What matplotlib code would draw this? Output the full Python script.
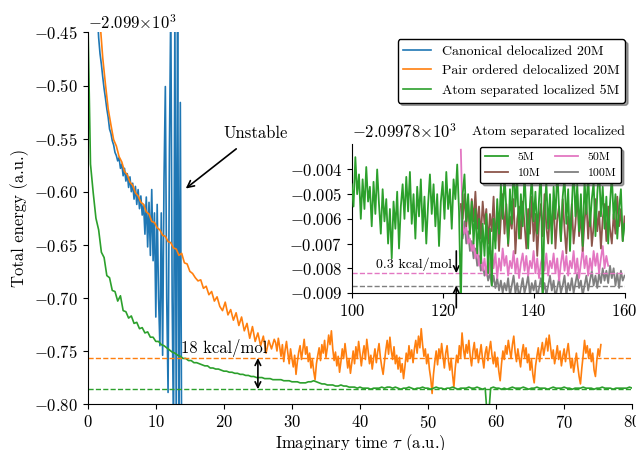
import numpy as np
import matplotlib
matplotlib.use("Agg")
import matplotlib.pyplot as plt

plt.rcParams['font.family'] = 'cmr10'
plt.rcParams['mathtext.fontset'] = 'cm'
plt.rcParams['axes.formatter.use_mathtext'] = True
plt.rcParams['axes.unicode_minus'] = True

# ---------------- data (main panel, energies relative to -2099 Ha, in mHa) -------------
t0_orange_early, dt_orange_early = 1.8, 0.4
orange_early_mha = [-440, -474, -499, -522, -537, -551, -557, -567, -572, -581, -584, -591, -594,
                    -601, -604, -610, -612, -619, -621, -628, -629, -634, -636, -641, -642, -647,
                    -648, -653, -654, -660, -658, -667, -668, -675, -677, -681, -684, -683, -691,
                    -689, -697, -694, -703, -699, -708, -712, -704, -716, -711, -721, -714, -726,
                    -718, -731, -724, -738, -727, -741, -733, -745, -736, -752, -740, -748, -739]
t0_orange_late, dt_orange_late = 27.6, 0.2
orange_late_mha = [
    -742, -750, -738, -746, -755, -744, -760, -749, -741, -752, -762, -748, -757, -765, -754, -772, -760, -751, -745, -758,
    -749, -739, -753, -746, -760, -752, -766, -758, -769, -777, -762, -754, -747, -759, -744, -752, -740, -756, -747, -735,
    -744, -731, -748, -759, -751, -764, -755, -770, -760, -748, -757, -743, -754, -766, -758, -771, -761, -750, -762, -746,
    -757, -741, -752, -764, -753, -745, -758, -739, -750, -762, -754, -767, -757, -748, -761, -751, -743, -756, -765, -772,
    -760, -749, -740, -753, -737, -750, -758, -746, -762, -754, -767, -756, -770, -762, -776, -765, -752, -760, -745, -757,
    -749, -761, -748, -740, -752, -736, -747, -729, -744, -755, -748, -762, -753, -767, -776, -790, -772, -760, -750, -763,
    -748, -757, -743, -755, -766, -752, -745, -759, -768, -757, -772, -784, -766, -754, -761, -745, -756, -733, -748, -757,
    -744, -752, -740, -755, -764, -750, -742, -757, -748, -761, -753, -744, -757, -766, -752, -746, -759, -749, -741, -754,
    -762, -751, -765, -756, -769, -778, -762, -750, -758, -745, -753, -740, -749, -757, -744, -736, -751, -760, -748, -757,
    -765, -752, -744, -756, -747, -761, -753, -768, -758, -772, -780, -764, -755, -747, -760, -750, -742, -754, -746, -738,
    -750, -735, -746, -757, -749, -762, -754, -745, -758, -750, -764, -755, -748, -760, -751, -743, -756, -766, -757, -770,
    -761, -752, -764, -774, -781, -766, -754, -740, -752, -745, -757, -748, -760, -752, -768, -774, -759, -748, -755, -744]

t0_green, dt_green = 0.0, 0.4
green_mha = [-430, -574, -601, -625, -636, -657, -662, -679, -681, -693, -694, -703, -698, -712,
             -713, -719, -717, -724, -723, -729, -728, -733, -732, -737, -737, -741, -741, -744,
             -745, -747, -749, -751, -752, -754, -755, -757, -757, -759, -759, -761, -761, -762,
             -763, -764, -764, -766, -766, -767, -767, -768, -769, -769, -770, -770, -771, -771,
             -772, -772, -773, -773, -774, -774, -775, -775, -775, -776, -776, -776, -777, -777,
             -777, -777, -778, -778, -778, -779, -779, -779, -780, -780, -780, -779, -779, -778,
             -779, -780, -781, -781, -782, -782, -782, -783, -783, -782, -783, -783, -784, -784,
             -784, -785, -784, -785, -785, -785, -786, -785, -785, -785, -784, -785, -784, -784,
             -785, -784, -785, -786, -785, -785, -784, -785, -786, -785, -785, -784, -785, -785,
             -786, -785, -784, -785, -785, -786, -785, -785, -784, -785, -786, -785, -785, -785,
             -784, -785, -785, -784, -785, -786, -785, -820, -785, -784, -785, -785, -786, -785,
             -786, -785, -784, -785, -785, -785, -784, -785, -786, -785, -785, -784, -785, -785,
             -785, -786, -785, -784, -785, -785, -785, -784, -785, -785, -786, -785, -785, -785,
             -784, -785, -785, -785, -786, -785, -785, -784, -785, -785, -785, -786, -785, -785,
             -785, -785, -785, -784, -785]

t0_blue, dt_blue = 1.4, 0.2
blue_mha = [-430, -455, -470, -480, -492, -503, -512, -522, -530, -541, -545, -552, -556, -563,
            -566, -571, -568, -578, -574, -585, -578, -590, -583, -596, -586, -600, -592, -607,
            -595, -612, -598, -616, -604, -622, -612, -640, -605, -652, -610, -660, -598, -665,
            -620, -718, -612, -700, -745, -620, -754, -590, -501, -700, -789, -560, -420, -700,
            -830, -430, -820, -410, -840, -516, -850]

orange_ref_mha = -756.6
green_ref_mha = -786.0

# ---------------- inset data (relative to -2099.78 Ha, in 1e-3 Ha) ----------------
t0_5m, dt_in = 100.0, 0.4
g5m = [-4.6, -5.5, -3.5, -5.0, -4.2, -6.0, -4.4, -5.6, -3.9, -5.3, -4.7, -6.3, -4.5, -5.8, -4.0,
       -5.4, -6.6, -4.8, -6.1, -5.2, -7.0, -5.6, -7.6, -5.3, -6.4, -4.9, -7.2, -5.5, -4.6, -6.0,
       -4.3, -5.7, -4.1, -6.2, -5.0, -6.8, -4.7, -5.9, -4.4, -6.5, -5.1, -7.0, -5.4, -4.2, -5.8,
       -4.6, -6.3, -5.0, -7.1, -5.3, -4.5, -6.0, -4.1, -5.6, -4.8, -6.4, -4.4, -5.2, -3.8, -5.7,
       -9.5, -5.0, -4.2, -6.1, -5.0, -6.6, -5.3, -7.0, -5.6, -7.4, -6.0, -7.8, -6.2, -7.5, -5.8,
       -8.2, -6.4, -8.7, -6.0, -7.2, -5.2, -6.6, -4.6, -6.0, -4.2, -5.6, -7.0, -4.8, -6.2, -3.6,
       -5.5, -4.4, -6.8, -5.0, -6.3, -4.1, -5.8, -7.2, -5.4, -4.3, -6.1, -4.9, -6.6, -5.2, -3.9,
       -9.5, -5.7, -4.5, -6.4, -5.0, -7.0, -4.7, -6.0, -4.0, -5.6, -6.9, -5.1, -4.3, -6.2, -4.8,
       -7.3, -5.5, -3.8, -5.9, -4.6, -6.5, -5.0, -7.1, -4.4, -5.8, -4.0, -6.3, -5.2, -4.5, -6.7,
       -5.0, -3.9, -5.9, -4.7, -6.4, -5.1, -7.0, -5.4, -4.2, -6.0, -5.0, -6.8, -5.6, -4.8, -6.9,
       -6.2]

t0_new = 124.0
b10m = [-5.4, -6.0, -5.0, -6.3, -5.4, -6.6, -5.2, -6.1, -4.9, -6.4, -5.5, -6.8, -5.3, -6.2, -5.6,
        -7.0, -5.8, -6.5, -5.1, -6.9, -5.7, -7.3, -6.0, -5.0, -6.6, -5.4, -7.1, -5.9, -6.4, -5.2,
        -7.4, -6.0, -5.5, -6.8, -5.3, -6.2, -7.2, -5.6, -6.6, -5.1, -6.9, -5.8, -7.5, -6.1, -5.4,
        -6.7, -5.0, -6.3, -7.0, -5.7, -6.5, -5.3, -7.2, -6.0, -5.5, -6.9, -5.2, -6.4, -7.4, -5.9,
        -6.6, -5.4, -7.0, -6.2, -5.0, -6.7, -5.8, -7.3, -6.1, -5.3, -6.8, -5.6, -7.1, -6.3, -5.2,
        -6.5, -5.7, -7.2, -6.0, -5.4, -6.9, -5.5, -6.4, -7.0, -5.8, -6.6, -5.1, -6.3, -5.6, -6.9,
        -5.9]
p50m = [-3.2, -6.2, -6.6, -6.3, -7.0, -6.8, -7.3, -7.0, -7.6, -7.2, -7.9, -7.4, -8.1, -7.6, -8.3,
        -7.5, -8.2, -7.3, -8.0, -7.4, -8.4, -7.6, -8.1, -7.2, -7.9, -7.5, -8.3, -7.7, -8.0, -7.3,
        -8.2, -7.6, -8.4, -7.8, -7.4, -8.1, -7.5, -8.3, -7.7, -8.0, -7.3, -8.2, -7.6, -8.4, -7.8,
        -7.5, -8.1, -7.4, -8.3, -7.7, -8.0, -7.4, -8.2, -7.6, -8.5, -7.8, -7.3, -8.1, -7.5, -8.3,
        -7.7, -8.0, -7.3, -8.2, -7.6, -8.4, -7.8, -7.2, -8.0, -7.5, -8.3, -7.6, -8.1, -7.3, -7.9,
        -7.4, -8.2, -7.6, -7.1, -8.0, -7.5, -7.9]
g100m = [-5.5, -6.8, -6.1, -7.0, -6.5, -7.3, -6.9, -7.6, -7.2, -7.9, -7.5, -8.1, -7.8, -8.3, -8.0,
         -8.5, -8.2, -8.7, -8.3, -8.8, -8.4, -8.9, -8.5, -9.0, -8.6, -8.9, -8.4, -9.1, -8.7, -8.3,
         -9.0, -8.6, -9.2, -8.8, -8.4, -9.0, -8.7, -8.3, -9.1, -8.6, -8.9, -8.5, -9.2, -8.8, -8.4,
         -9.0, -8.6, -9.1, -8.7, -8.3, -8.9, -8.5, -9.2, -8.8, -8.4, -9.0, -8.7, -8.3, -9.1, -8.6,
         -8.9, -8.4, -9.0, -8.6, -8.2, -8.8, -8.5, -9.1, -8.7, -8.3, -8.9, -8.5, -8.1, -8.7, -8.3,
         -8.8, -8.2, -8.6, -8.0, -8.5, -8.1, -8.6, -7.9, -8.4, -8.0, -8.7, -8.2, -8.8, -8.1, -8.5,
         -8.3]
pink_ref = -8.2
gray_ref = -8.7

main_labels = ['Canonical delocalized 20M', 'Pair ordered delocalized 20M',
               'Atom separated localized 5M']
inset_labels = ['5M', '10M', '50M', '100M']
main_xticks = [0, 10, 20, 30, 40, 50, 60, 70, 80]
main_yticks = [-0.45, -0.50, -0.55, -0.60, -0.65, -0.70, -0.75, -0.80]
inset_xticks = [100, 120, 140, 160]
inset_yticks = [-0.004, -0.005, -0.006, -0.007, -0.008, -0.009]


def series(t0, dt, vals, scale):
    v = np.asarray(vals, dtype=float) * scale
    t = t0 + dt * np.arange(len(v))
    return t, v


fig = plt.figure(figsize=(6.36, 4.5), dpi=100)
ax = fig.add_axes([0.138, 0.102, 0.856, 0.826])

tb, yb = series(t0_blue, dt_blue, blue_mha, 1e-3)
toe, yoe = series(t0_orange_early, dt_orange_early, orange_early_mha, 1e-3)
tol, yol = series(t0_orange_late, dt_orange_late, orange_late_mha, 1e-3)
to, yo = np.concatenate([toe, tol]), np.concatenate([yoe, yol])
tg, yg = series(t0_green, dt_green, green_mha, 1e-3)
ax.plot(tb, yb, color='tab:blue', lw=1.2, label=main_labels[0])
ax.plot(to, yo, color='tab:orange', lw=1.2, label=main_labels[1])
ax.plot(tg, yg, color='tab:green', lw=1.2, label=main_labels[2])
ax.axhline(orange_ref_mha * 1e-3, color='tab:orange', ls='--', lw=1)
ax.axhline(green_ref_mha * 1e-3, color='tab:green', ls='--', lw=1)

ax.set_xlim(0, 80)
ax.set_ylim(-0.80, -0.45)
ax.set_xticks(main_xticks)
ax.set_yticks(main_yticks)
ax.tick_params(labelsize=12)
for s in ['top', 'right']:
    ax.spines[s].set_visible(False)
ax.set_xlabel(r'Imaginary time $\tau$ (a.u.)', fontsize=12, labelpad=1)
ax.set_ylabel('Total energy (a.u.)', fontsize=12)
ax.text(0.0, 1.0, r'$-2.099{\times}10^{3}$', transform=ax.transAxes,
        ha='left', va='bottom', fontsize=12)

ax.annotate('Unstable', xy=(14.4, -0.597), xytext=(20.0, -0.545),
            fontsize=12, ha='left', va='center',
            arrowprops=dict(arrowstyle='->', color='black', lw=1.2,
                            shrinkA=6, shrinkB=0))
ax.annotate('', xy=(25, green_ref_mha * 1e-3), xytext=(25, orange_ref_mha * 1e-3),
            arrowprops=dict(arrowstyle='<->', color='black', lw=1.2,
                            shrinkA=0, shrinkB=0))
ax.text(20.0, orange_ref_mha * 1e-3 + 0.0005, '18 kcal/mol', ha='center', va='bottom',
        fontsize=12)

ax.legend(loc='upper right', bbox_to_anchor=(1.0, 1.0), fontsize=10, shadow=True,
          framealpha=1, edgecolor='black', fancybox=True)

# ---------------- inset ----------------
ins = fig.add_axes([0.553, 0.349, 0.429, 0.332])
t5, y5 = series(t0_5m, dt_in, g5m, 1e-3)
t10, y10 = series(t0_new, dt_in, b10m, 1e-3)
t50, y50 = series(t0_new, dt_in, p50m, 1e-3)
t100, y100 = series(t0_new, dt_in, g100m, 1e-3)
ins.plot(t5, y5, color='tab:green', lw=1.3, label=inset_labels[0], zorder=5)
ins.plot(t10, y10, color='tab:brown', lw=1.3, label=inset_labels[1], zorder=4)
ins.plot(t50, y50, color='tab:pink', lw=1.3, label=inset_labels[2], zorder=3)
ins.plot(t100, y100, color='tab:gray', lw=1.3, label=inset_labels[3], zorder=2)
ins.axhline(pink_ref * 1e-3, color='tab:pink', ls='--', lw=1)
ins.axhline(gray_ref * 1e-3, color='tab:gray', ls='--', lw=1)
ins.set_xlim(100, 160)
ins.set_ylim(-0.009, -0.00295)
ins.set_xticks(inset_xticks)
ins.set_yticks(inset_yticks)
ins.tick_params(labelsize=12)
for s in ['top', 'right']:
    ins.spines[s].set_visible(False)
ins.text(0.0, 1.02, r'$-2.09978{\times}10^{3}$', transform=ins.transAxes,
         ha='left', va='bottom', fontsize=12)
ins.set_title('Atom separated localized', loc='right', fontsize=10, pad=6)

ins.annotate('', xy=(123, pink_ref * 1e-3), xytext=(123, -0.0073),
             arrowprops=dict(arrowstyle='->', color='black', lw=1.2, shrinkA=0, shrinkB=0),
             annotation_clip=False)
ins.annotate('', xy=(123, gray_ref * 1e-3), xytext=(123, -0.0096),
             arrowprops=dict(arrowstyle='->', color='black', lw=1.2, shrinkA=0, shrinkB=0),
             annotation_clip=False)
ins.text(122, -0.00785, '0.3 kcal/mol', ha='right', va='center', fontsize=10)

ins.legend(loc='upper right', ncol=2, fontsize=8.5, shadow=True, framealpha=1,
           edgecolor='black', fancybox=True, columnspacing=1.2, borderaxespad=0.3)

fig.savefig('out.png', dpi=100)
